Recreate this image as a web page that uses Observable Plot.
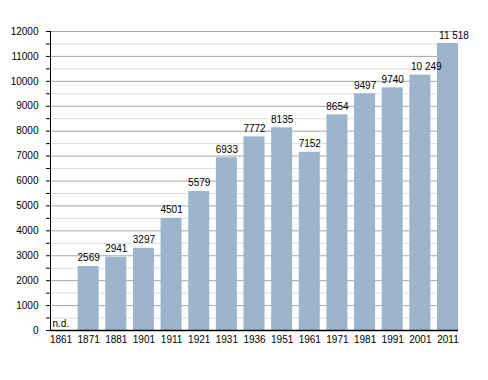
<!DOCTYPE html>
<html>
<head>
<meta charset="utf-8">
<script src="https://cdn.jsdelivr.net/npm/d3@7"></script>
<script src="https://cdn.jsdelivr.net/npm/@observablehq/plot@0.6"></script>
<style>
  html, body { margin: 0; padding: 0; background: #fff; }
</style>
</head>
<body>
<div id="chart"></div>
<script>
const years = ["1861","1871","1881","1901","1911","1921","1931","1936","1951","1961","1971","1981","1991","2001","2011"];
const population = [null,2569,2941,3297,4501,5579,6933,7772,8135,7152,8654,9497,9740,10249,11518];
const majorTicks = [0,1000,2000,3000,4000,5000,6000,7000,8000,9000,10000,11000,12000];
const minorTicks = [500,1500,2500,3500,4500,5500,6500,7500,8500,9500,10500,11500];
const missingLabel = "n.d.";

const fmt = v => v >= 10000 ? String(v).replace(/(\d)(?=(\d{3})+$)/g, "$1 ") : String(v);
const data = years.map((year, i) => ({year, value: population[i]}));
const present = data.filter(d => d.value != null);
const shortVals = present.filter(d => d.value < 10000);
const longVals = present.filter(d => d.value >= 10000);
const missing = data.filter(d => d.value == null);

const chart = Plot.plot({
  width: 488,
  height: 380,
  marginLeft: 50,
  marginRight: 30,
  marginTop: 31,
  marginBottom: 50,
  style: {fontFamily: "'Liberation Sans', Arial, Helvetica, sans-serif", fontSize: "10px", color: "#000", background: "#fff"},
  x: {type: "band", domain: years, paddingInner: 0.24, paddingOuter: 0, align: 0.5, round: false, label: null},
  y: {domain: [0, 12000], label: null},
  marks: [
    Plot.ruleY(minorTicks, {stroke: "#dcdcdc", strokeWidth: 1}),
    Plot.ruleY(majorTicks, {stroke: "#a8a8a8", strokeWidth: 1}),
    Plot.barY(present, {x: "year", y: "value", fill: "#9db4cd"}),
    Plot.text(shortVals, {x: "year", y: "value", text: d => fmt(d.value), dy: -5, lineAnchor: "bottom", fill: "#000"}),
    Plot.text(longVals, {x: "year", y: "value", text: d => fmt(d.value), dy: -5, dx: 6, lineAnchor: "bottom", fill: "#000"}),
    Plot.text(missing, {x: "year", y: 0, text: () => missingLabel, dy: -4, dx: -8.5, lineAnchor: "bottom", textAnchor: "start", fill: "#000"}),
    Plot.axisY({ticks: majorTicks.concat(minorTicks), tickFormat: d => d % 1000 === 0 ? String(d) : "", tickSize: 4, tickPadding: 8, stroke: "#000", label: null}),
    Plot.axisX({tickSize: 0, tickPadding: 5, label: null}),
    Plot.frame({anchor: "left", stroke: "#000"}),
    Plot.ruleY([0], {stroke: "#000", strokeWidth: 1.5})
  ]
});
document.getElementById("chart").appendChild(chart);
</script>
</body>
</html>
